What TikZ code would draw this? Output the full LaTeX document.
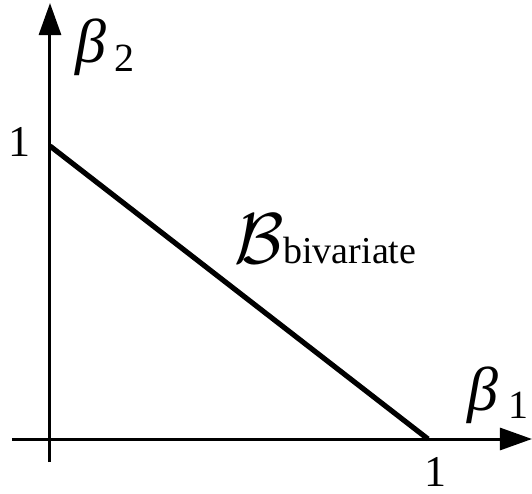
\documentclass[tikz,border=0pt]{standalone}
\usepackage{fix-cm}
\usepackage{fontspec}
\setmainfont{Liberation Serif}
\usetikzlibrary{arrows.meta}

\begin{document}
\begin{tikzpicture}[x=0.5pt,y=-0.5pt]
\tikzset{
  axis/.style={line width=1.5pt,-{Triangle[length=16pt,width=11pt]}},
  region/.style={line width=2.6pt},
  tick/.style={inner sep=0pt,font=\fontsize{22}{24}\selectfont},
  greek/.style={inner sep=0pt,font=\fontsize{31}{33}\selectfont\itshape},
  sub/.style={inner sep=0pt,font=\fontsize{20}{22}\selectfont}
}
\useasboundingbox (0,0) rectangle (532,494);
\coordinate (ybot) at (50,462);
\coordinate (ytop) at (50,3);
\coordinate (xleft) at (12,439);
\coordinate (xright) at (532,439);
\coordinate (c_e2) at (50,146);
\coordinate (c_e1) at (428,439);
\draw[axis] (ybot) -- (ytop);
\draw[axis] (xleft) -- (xright);
\draw[region] (c_e2) -- (c_e1);
\node[tick] (n_one2) at (20,142) {1};
\node[tick] (n_one1) at (435,472) {1};
\node[greek] (n_beta2) at (91,47) {β};
\node[sub] (n_sub2) at (124,58) {2};
\node[greek] (n_beta1) at (483,395) {β};
\node[sub] (n_sub1) at (519,405) {1};
\node[inner sep=0pt,anchor=base east,font=\fontsize{36}{38}\selectfont] (n_calB) at (284,263) {$\mathcal{B}$};
\node[inner sep=0pt,anchor=base west,font=\fontsize{19}{21}\selectfont] (n_biv) at (283,263) {bivariate};
\end{tikzpicture}
\end{document}
